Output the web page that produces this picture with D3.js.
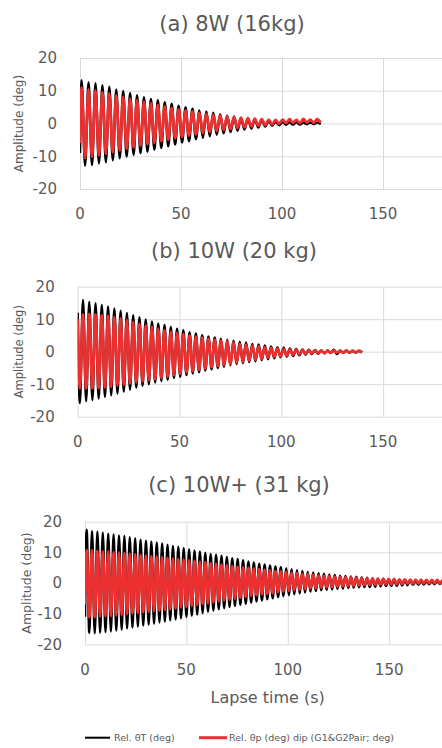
<!DOCTYPE html>
<html>
<head>
<meta charset="utf-8">
<script src="https://cdn.jsdelivr.net/npm/d3@7"></script>
<style>
  html, body { margin: 0; padding: 0; background: #fff; }
  svg { display: block; }
</style>
</head>
<body>
<svg id="chart" width="442" height="748"></svg>
<script>
// ---- Axis ticks and labels ----
const xTicks = [0, 50, 100, 150];
const yTicks = [-20, -10, 0, 10, 20];
const xDomain = [0, 180];
const yDomain = [-20, 20];
const panelTitles = ["(a) 8W (16kg)", "(b) 10W (20 kg)", "(c) 10W+ (31 kg)"];
const yAxisTitle = "Amplitude (deg)";
const xAxisTitle = "Lapse time (s)";
const seriesNames = ["Rel. θT (deg)", "Rel. θp (deg) dip (G1&G2Pair; deg)"];

// ---- Free-decay records, stored as successive swing extremes ----
// Each record: opening samples [t, value], time of first crest, swing period (s),
// then the crest value and following trough value of every cycle.

// (a) 8W (16kg)
const a_start = 0.8, a_period = 3.43;
const a_T_lead = [[0, -9.0]];
const a_T_hi = [13.2,12.6,12.3,11.7,11.2,10.4,9.9,9.3,8.6,8.0,7.5,7.1,6.5,6.0,5.4,5.0,4.5,4.0,3.7,3.3,2.8,2.4,2.1,1.7,1.5,1.3,1.0,0.8,0.6,0.5,0.4,0.4,0.3,0.3,0.3];
const a_T_lo = [-12.9,-12.7,-12.2,-11.8,-11.2,-10.6,-10.1,-9.6,-9.1,-8.6,-8.0,-7.5,-7.0,-6.4,-5.8,-5.4,-4.8,-4.4,-3.9,-3.4,-3.0,-2.6,-2.2,-1.8,-1.5,-1.2,-0.9,-0.7,-0.5,-0.4,-0.3,-0.3,-0.2,-0.2,-0.2];
const a_P_lead = [[0, -6.0]];
const a_P_hi = [11.0,10.4,10.1,9.6,9.2,8.6,8.1,7.6,7.1,6.6,6.1,5.7,5.2,4.8,4.3,3.9,3.6,3.2,2.9,2.6,2.4,2.2,2.0,1.8,1.6,1.5,1.3,1.2,1.1,1.2,1.3,1.1,1.4,1.2,1.3];
const a_P_lo = [-10.6,-10.2,-9.8,-9.3,-8.8,-8.3,-7.8,-7.3,-6.8,-6.3,-5.9,-5.4,-5.0,-4.5,-4.1,-3.7,-3.3,-2.9,-2.6,-2.3,-2.0,-1.7,-1.4,-1.2,-0.9,-0.7,-0.5,-0.3,-0.1,0.1,0.2,0.1,0.3,0.2,0.3];

// (b) 10W (20 kg)
const b_start = 2.6, b_period = 3.08;
const b_T_lead = [[0, 12.0], [1.06, -15.8]];
const b_T_hi = [15.9,15.3,14.9,14.4,13.9,13.3,12.6,11.9,11.2,10.6,9.9,9.3,8.7,8.2,7.6,7.1,6.6,6.0,5.6,5.1,4.7,4.4,4.0,3.7,3.4,3.1,2.8,2.4,2.2,1.9,1.6,1.4,1.2,1.0,0.8,0.7,0.6,0.5,0.4,0.4,0.6,0.3,0.3,0.2,0.2];
const b_T_lo = [-15.2,-14.9,-14.4,-13.9,-13.4,-12.9,-12.3,-11.7,-11.1,-10.5,-10.0,-9.5,-9.0,-8.6,-8.1,-7.7,-7.2,-6.7,-6.3,-5.8,-5.4,-5.0,-4.6,-4.2,-3.8,-3.5,-3.2,-2.9,-2.6,-2.3,-2.0,-1.7,-1.5,-1.3,-1.1,-0.9,-0.7,-0.6,-0.5,-0.4,-0.7,-0.3,-0.3,-0.2,-0.2];
const b_P_lead = [[0, 10.0], [1.06, -11.3]];
const b_P_hi = [11.5,11.6,11.4,11.2,11.0,10.7,10.3,9.8,9.2,8.6,8.1,7.6,7.1,6.6,6.2,5.8,5.4,5.0,4.6,4.3,4.0,3.7,3.4,3.1,2.8,2.5,2.2,1.9,1.6,1.4,1.2,1.0,0.8,0.7,0.6,0.5,0.4,0.4,0.3,0.3,0.3,0.3,0.3,0.3,0.3];
const b_P_lo = [-11.3,-11.3,-11.2,-11.0,-10.8,-10.5,-10.2,-9.8,-9.5,-9.2,-8.8,-8.5,-8.1,-7.7,-7.2,-6.8,-6.4,-6.0,-5.6,-5.2,-4.8,-4.4,-4.1,-3.8,-3.4,-3.1,-2.8,-2.5,-2.2,-1.9,-1.6,-1.4,-1.2,-1.0,-0.8,-0.7,-0.5,-0.4,-0.4,-0.3,-0.3,-0.3,-0.2,-0.2,-0.2];

// (c) 10W+ (31 kg)
const c_start = 0.8, c_period = 2.66;
const c_T_lead = [[0, -11.0]];
const c_T_hi = [17.4,16.9,16.7,16.4,16.1,15.8,15.5,15.3,14.9,14.6,14.2,13.9,13.5,13.2,12.9,12.5,12.1,11.8,11.4,11.0,10.6,10.3,9.9,9.5,9.2,8.9,8.5,8.1,7.8,7.4,7.0,6.7,6.3,6.0,5.7,5.4,5.1,4.8,4.5,4.2,3.9,3.6,3.4,3.2,3.0,2.8,2.6,2.4,2.3,2.1,2.0,1.8,1.7,1.5,1.4,1.3,1.2,1.1,1.0,1.0,0.9,0.8,0.8,0.7,0.7,0.6,0.6,0.6];
const c_T_lo = [-16.3,-16.4,-16.2,-16.0,-15.8,-15.5,-15.2,-14.8,-14.5,-14.2,-13.9,-13.6,-13.3,-12.9,-12.6,-12.2,-11.9,-11.5,-11.1,-10.7,-10.3,-9.8,-9.4,-9.0,-8.6,-8.2,-7.8,-7.5,-7.1,-6.8,-6.4,-6.0,-5.7,-5.3,-5.0,-4.6,-4.3,-4.0,-3.7,-3.4,-3.1,-2.8,-2.6,-2.4,-2.2,-2.1,-1.9,-1.8,-1.6,-1.5,-1.4,-1.3,-1.3,-1.2,-1.1,-1.0,-0.9,-0.9,-0.8,-0.7,-0.6,-0.6,-0.5,-0.4,-0.4,-0.3,-0.3,-0.3];
const c_P_lead = [[0, -7.0]];
const c_P_hi = [10.7,10.6,10.5,10.4,10.3,10.1,10.0,9.8,9.6,9.4,9.2,9.0,8.8,8.6,8.4,8.2,8.0,7.8,7.6,7.4,7.2,7.0,6.8,6.5,6.3,6.0,5.8,5.5,5.3,5.1,4.9,4.7,4.5,4.3,4.1,3.9,3.8,3.6,3.4,3.2,3.0,2.9,2.7,2.5,2.4,2.3,2.1,2.0,1.9,1.8,1.7,1.6,1.5,1.5,1.4,1.4,1.3,1.3,1.2,1.2,1.1,1.1,1.1,1.0,1.0,1.0,0.9,0.9];
const c_P_lo = [-11.1,-11.1,-11.0,-10.9,-10.8,-10.6,-10.4,-10.2,-10.0,-9.8,-9.6,-9.4,-9.2,-9.0,-8.8,-8.6,-8.3,-8.0,-7.8,-7.5,-7.2,-6.9,-6.6,-6.3,-6.0,-5.7,-5.4,-5.1,-4.8,-4.5,-4.2,-4.0,-3.7,-3.5,-3.3,-3.0,-2.8,-2.6,-2.4,-2.2,-2.0,-1.8,-1.7,-1.5,-1.4,-1.3,-1.2,-1.1,-1.0,-0.9,-0.8,-0.7,-0.6,-0.6,-0.5,-0.4,-0.4,-0.3,-0.3,-0.2,-0.2,-0.2,-0.1,-0.1,-0.1,-0.1,0.0,0.0];

// ---- Build point lists from the stored extremes ----
function swingRecord(lead, start, period, hi, lo) {
  const pts = lead.map(([t, v]) => ({ t, v }));
  hi.forEach((h, i) => {
    pts.push({ t: start + i * period, v: h });
    pts.push({ t: start + (i + 0.5) * period, v: lo[i] });
  });
  return pts;
}

const panels = [
  { title: panelTitles[0],
    T: swingRecord(a_T_lead, a_start, a_period, a_T_hi, a_T_lo),
    P: swingRecord(a_P_lead, a_start, a_period, a_P_hi, a_P_lo),
    box: { left: 80, right: 443.6, top: 58, bottom: 189 },
    titleX: 232, titleY: 30.5, yTitleX: 19, yTitleSize: 12 },
  { title: panelTitles[1],
    T: swingRecord(b_T_lead, b_start, b_period, b_T_hi, b_T_lo),
    P: swingRecord(b_P_lead, b_start, b_period, b_P_hi, b_P_lo),
    box: { left: 77.7, right: 444.2, top: 286.7, bottom: 416.7 },
    titleX: 234, titleY: 258, yTitleX: 19, yTitleSize: 11.5 },
  { title: panelTitles[2],
    T: swingRecord(c_T_lead, c_start, c_period, c_T_hi, c_T_lo),
    P: swingRecord(c_P_lead, c_start, c_period, c_P_hi, c_P_lo),
    box: { left: 85, right: 450, top: 521.7, bottom: 644.3 },
    titleX: 239, titleY: 492, yTitleX: 26.5, yTitleSize: 12.5 }
];

// ---- Styling ----
const FONT = "'DejaVu Sans', 'Liberation Sans', sans-serif";
const TEXT = "#595959";
const GRID = "#d9d9d9";
const BLACK = "#000000";
const RED = "#ee2f2f";

const svg = d3.select("#chart").style("font-family", FONT);

panels.forEach((p, k) => {
  const { left, right, top, bottom } = p.box;
  const x = d3.scaleLinear().domain(xDomain).range([left, right]);
  const y = d3.scaleLinear().domain(yDomain).range([bottom, top]);
  const g = svg.append("g");

  // title
  g.append("text")
    .attr("x", p.titleX).attr("y", p.titleY)
    .attr("text-anchor", "middle")
    .attr("font-size", 21)
    .attr("fill", TEXT)
    .text(p.title);

  // gridlines
  const gx = g.append("g")
    .attr("transform", `translate(0,${bottom})`)
    .call(d3.axisBottom(x).tickValues(xTicks).tickSize(-(bottom - top)).tickFormat(""));
  gx.select(".domain").remove();
  gx.selectAll("line").attr("stroke", GRID).attr("stroke-width", 1);

  const gy = g.append("g")
    .attr("transform", `translate(${left},0)`)
    .call(d3.axisLeft(y).tickValues(yTicks).tickSize(-(right - left)).tickFormat(""));
  gy.select(".domain").remove();
  gy.selectAll("line").attr("stroke", GRID).attr("stroke-width", 1);

  // tick labels
  g.append("g").selectAll("text").data(yTicks).join("text")
    .attr("x", left - 23).attr("y", d => y(d)).attr("dy", "0.36em")
    .attr("text-anchor", "end").attr("font-size", 15).attr("fill", TEXT)
    .text(d => d);
  g.append("g").selectAll("text").data(xTicks).join("text")
    .attr("x", d => x(d)).attr("y", bottom + 25).attr("dy", "0.36em")
    .attr("text-anchor", "middle").attr("font-size", 15).attr("fill", TEXT)
    .text(d => d);

  // y axis title
  g.append("text")
    .attr("transform", `translate(${p.yTitleX},${(top + bottom) / 2}) rotate(-90)`)
    .attr("text-anchor", "middle").attr("dy", "0.36em")
    .attr("font-size", p.yTitleSize).attr("fill", TEXT)
    .text(yAxisTitle);

  // series
  const clipId = `clip${k}`;
  g.append("clipPath").attr("id", clipId)
    .append("rect").attr("x", left).attr("y", top - 4)
    .attr("width", right - left).attr("height", bottom - top + 8);

  const line = d3.line().x(d => x(d.t)).y(d => y(d.v)).curve(d3.curveMonotoneX);
  const plot = g.append("g").attr("clip-path", `url(#${clipId})`);
  plot.append("path").datum(p.T)
    .attr("d", line).attr("fill", "none")
    .attr("stroke", BLACK).attr("stroke-width", 2.5).attr("stroke-linejoin", "round");
  plot.append("path").datum(p.P)
    .attr("d", line).attr("fill", "none")
    .attr("stroke", RED).attr("stroke-width", 2.8).attr("stroke-linejoin", "round");

  if (k === panels.length - 1) {
    g.append("text")
      .attr("x", 267.7).attr("y", 703)
      .attr("text-anchor", "middle").attr("font-size", 16).attr("fill", TEXT)
      .text(xAxisTitle);
  }
});

// legend
const legendY = 737.7;
const legend = svg.append("g");
const legendItems = [
  { name: seriesNames[0], color: BLACK, width: 2, x0: 85, x1: 110, tx: 114 },
  { name: seriesNames[1], color: RED, width: 3, x0: 199, x1: 227, tx: 229 }
];
legendItems.forEach(it => {
  legend.append("line")
    .attr("x1", it.x0).attr("x2", it.x1).attr("y1", legendY).attr("y2", legendY)
    .attr("stroke", it.color).attr("stroke-width", it.width);
  legend.append("text")
    .attr("x", it.tx).attr("y", legendY).attr("dy", "0.36em")
    .attr("font-size", 9.5).attr("fill", TEXT)
    .text(it.name);
});
</script>
</body>
</html>
